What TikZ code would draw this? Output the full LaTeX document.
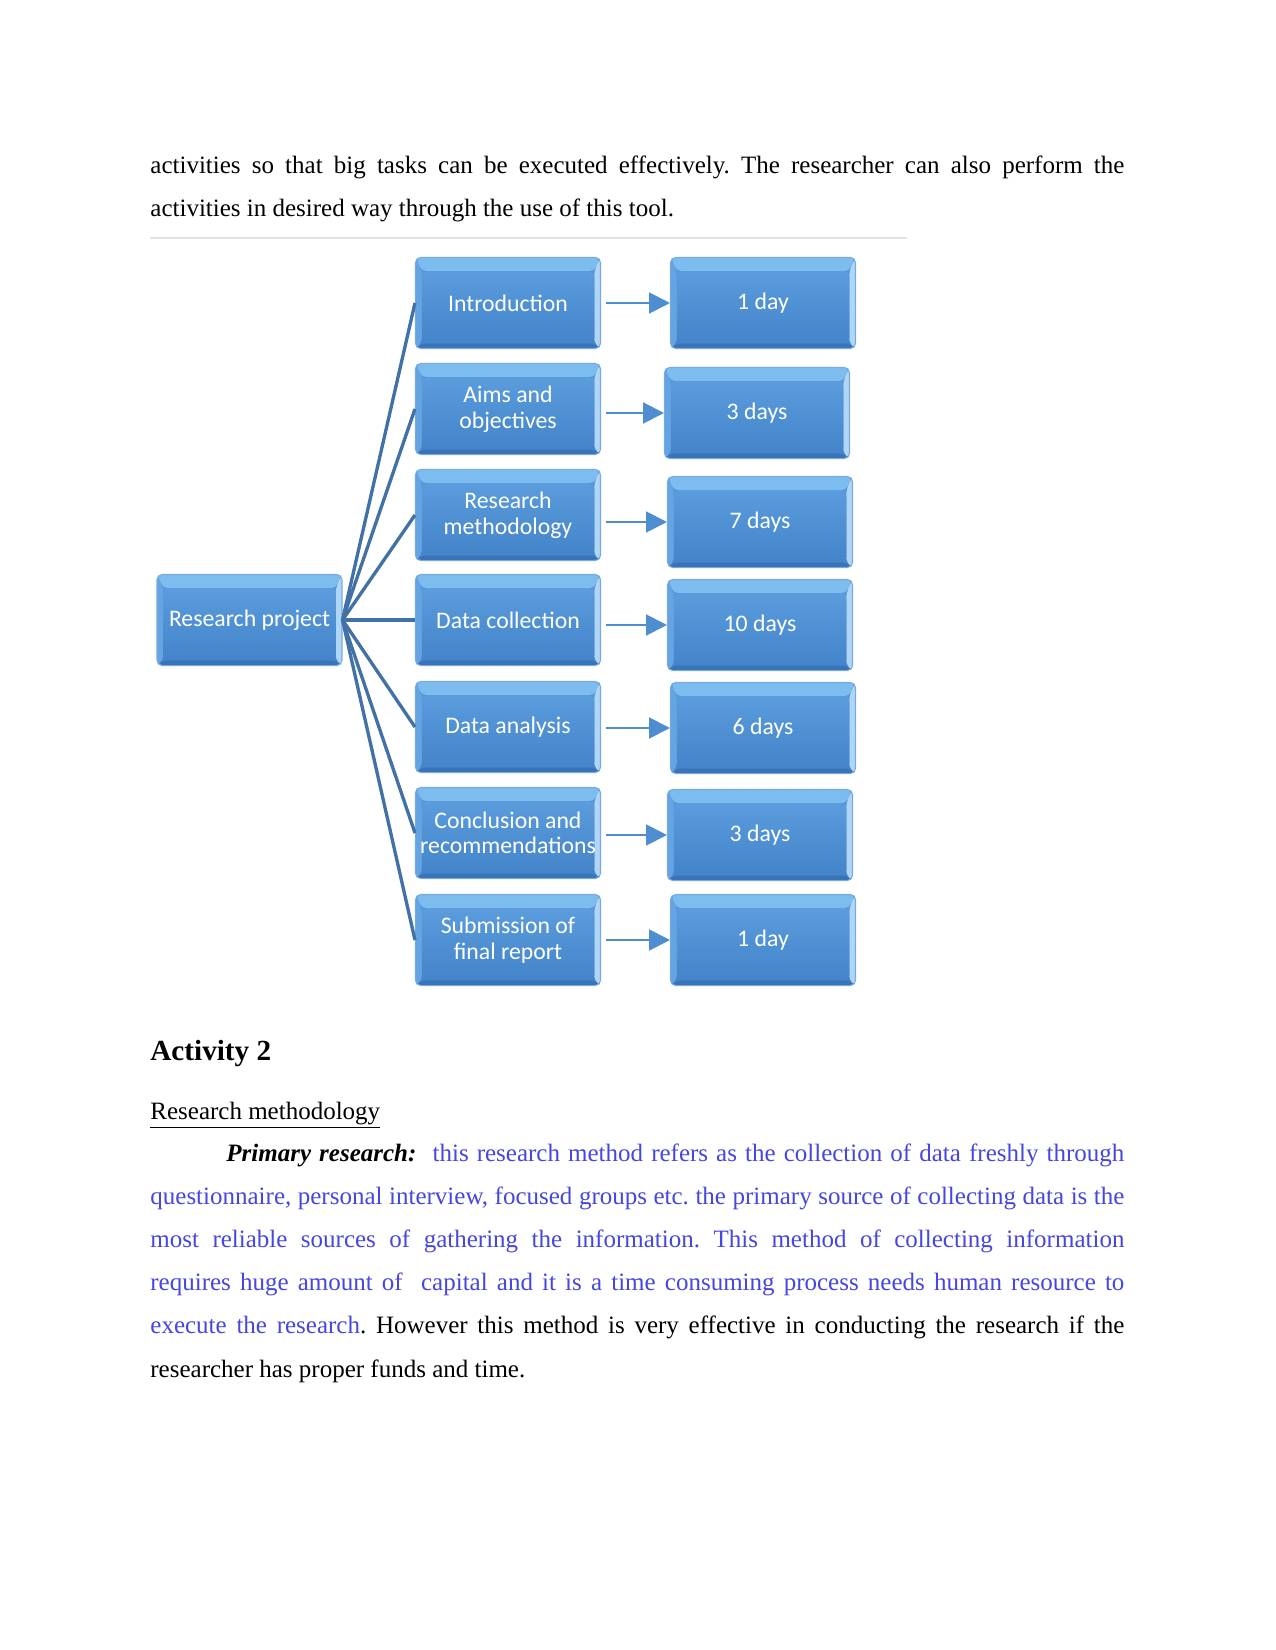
\documentclass[tikz,border=0pt]{standalone}
\usepackage{fontspec}
\setmainfont{Liberation Serif}
\newfontfamily\boxfont{Carlito}
\usetikzlibrary{arrows.meta}
\frenchspacing
\definecolor{bluetext}{RGB}{70,70,225}
\definecolor{facetop}{RGB}{90,156,220}
\definecolor{facebot}{RGB}{68,132,202}
\definecolor{bevtop}{RGB}{125,188,238}
\definecolor{bevright}{RGB}{175,214,246}
\definecolor{bevleft}{RGB}{100,164,226}
\definecolor{bevbot}{RGB}{58,116,184}
\definecolor{boxedge}{RGB}{120,170,220}
\definecolor{fanc}{RGB}{66,114,165}
\definecolor{arrc}{RGB}{78,142,208}
\definecolor{rulec}{RGB}{228,228,228}
\tikzset{
  bevbox/.style={rectangle, rounded corners=2.5pt, minimum width=88.8pt, minimum height=43.7pt,
    inner sep=0pt, align=center, text=white,
    font=\boxfont\fontsize{11.4}{12.3}\selectfont,
    top color=facetop, bottom color=facebot, draw=boxedge, line width=0.5pt,
    path picture={
      \fill[bevtop] (path picture bounding box.north west) -- (path picture bounding box.north east)
        -- ([shift={(-3pt,-6.6pt)}]path picture bounding box.north east)
        -- ([shift={(3pt,-6.6pt)}]path picture bounding box.north west) -- cycle;
      \fill[bevright] (path picture bounding box.north east) -- (path picture bounding box.south east)
        -- ([shift={(-3pt,2.5pt)}]path picture bounding box.south east)
        -- ([shift={(-3pt,-6.6pt)}]path picture bounding box.north east) -- cycle;
      \fill[bevleft] (path picture bounding box.north west) -- (path picture bounding box.south west)
        -- ([shift={(3pt,2.5pt)}]path picture bounding box.south west)
        -- ([shift={(3pt,-6.6pt)}]path picture bounding box.north west) -- cycle;
      \fill[bevbot] (path picture bounding box.south west) -- (path picture bounding box.south east)
        -- ([shift={(-3pt,2.5pt)}]path picture bounding box.south east)
        -- ([shift={(3pt,2.5pt)}]path picture bounding box.south west) -- cycle;
      \shade[top color=facetop, bottom color=facebot] ([shift={(3pt,-6.6pt)}]path picture bounding box.north west)
        rectangle ([shift={(-3pt,2.5pt)}]path picture bounding box.south east);
    }},
  fan/.style={draw=fanc, line width=1.6pt},
  arr/.style={draw=arrc, line width=1pt, -{Triangle[length=10pt,width=10pt]}},
  txt/.style={inner sep=0pt, anchor=base west, font=\fontsize{12}{14}\selectfont}
}
\begin{document}
\begin{tikzpicture}[x=0.48pt,y=-0.48pt]
\useasboundingbox (0,0) rectangle (1275,1650);
\fill[white] (0,0) rectangle (1275,1650);

% text above
\node[txt] (t1) at (150,174) {\makebox[467.5pt][s]{activities so that big tasks can be executed effectively. The researcher can also perform the}};
\node[txt] (t2) at (150,217) {activities in desired way through the use of this tool.};
\draw[rulec, line width=1.4pt] (150,238) -- (907,238);

% diagram
\node[bevbox] (RP) at (249.5,620) {Research project};

\node[bevbox] (L1) at (508,303) {Introduction};
\node[bevbox] (L2) at (508,409) {Aims and\\objectives};
\node[bevbox] (L3) at (508,515) {Research\\methodology};
\node[bevbox] (L4) at (508,620) {Data collection};
\node[bevbox] (L5) at (508,727) {Data analysis};
\node[bevbox] (L6) at (508,833) {Conclusion and\\recommendations};
\node[bevbox] (L7) at (508,940) {Submission of\\final report};

\node[bevbox] (R1) at (763,303) {1 day};
\node[bevbox] (R2) at (757,413) {3 days};
\node[bevbox] (R3) at (760,522) {7 days};
\node[bevbox] (R4) at (760,625) {10 days};
\node[bevbox] (R5) at (763,728) {6 days};
\node[bevbox] (R6) at (760,835) {3 days};
\node[bevbox] (R7) at (763,940) {1 day};

\foreach \i in {1,...,7}{
  \draw[fan] (RP.east) -- (L\i.west);
  \draw[arr] ([xshift=2.5pt]L\i.east |- R\i.west) -- (R\i.west);
}

% text below
\node[txt, font=\fontsize{14}{16}\selectfont\bfseries] (h) at (150,1060) {Activity 2};
\node[txt] (s) at (150,1119) {\underline{Research methodology}};
\node[txt] (p1) at (226,1161) {\makebox[431pt][s]{\textbf{\textit{Primary research:}}\ \ \textcolor{bluetext}{this research method refers as the collection of data freshly through}}};
\node[txt] (p2) at (150,1204) {\makebox[467.5pt][s]{\color{bluetext}questionnaire, personal interview, focused groups etc. the primary source of collecting data is the}};
\node[txt] (p3) at (150,1247) {\makebox[467.5pt][s]{\color{bluetext}most reliable sources of gathering the information. This method of collecting information}};
\node[txt] (p4) at (150,1290) {\makebox[467.5pt][s]{\color{bluetext}requires huge amount of\ \ capital and it is a time consuming process needs human resource to}};
\node[txt] (p5) at (150,1333) {\makebox[467.5pt][s]{\textcolor{bluetext}{execute the research}. However this method is very effective in conducting the research if the}};
\node[txt] (p6) at (150,1377) {researcher has proper funds and time.};
\end{tikzpicture}
\end{document}
